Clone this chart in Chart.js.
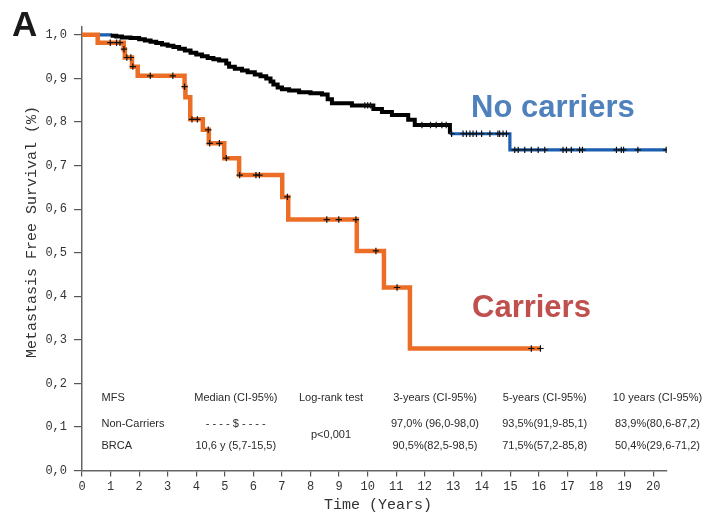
<!DOCTYPE html>
<html><head><meta charset="utf-8">
<script src="https://cdn.jsdelivr.net/npm/chart.js@4.4.1/dist/chart.umd.min.js"></script>
<style>html,body{margin:0;padding:0;background:#fff}canvas{display:block}</style>
</head><body>
<canvas id="c" width="706" height="513"></canvas>
<script>
// ---- tick labels ----
const yTickValues = [0, 0.1, 0.2, 0.3, 0.4, 0.5, 0.6, 0.7, 0.8, 0.9, 1.0];
const yTickLabels = ['0,0','0,1','0,2','0,3','0,4','0,5','0,6','0,7','0,8','0,9','1,0'];
const xTickValues = [0,1,2,3,4,5,6,7,8,9,10,11,12,13,14,15,16,17,18,19,20];
const xTickLabels = ['0','1','2','3','4','5','6','7','8','9','10','11','12','13','14','15','16','17','18','19','20'];

// ---- Carriers (BRCA) Kaplan-Meier steps ----
const carrierTimes    = [0, 0.55, 1.46, 1.50, 1.75, 1.95, 3.59, 3.62, 3.79, 4.23, 4.44, 4.98, 5.50, 7.01, 7.22, 9.62, 10.57, 11.48, 16.05];
const carrierSurvival = [1.0, 0.982, 0.967, 0.948, 0.927, 0.906, 0.881, 0.857, 0.806, 0.782, 0.751, 0.717, 0.678, 0.628, 0.576, 0.504, 0.420, 0.280, 0.280];
const carrierCensorTimes    = [0.99, 1.21, 1.33, 1.47, 1.57, 1.71, 1.78, 2.39, 3.18, 3.59, 3.85, 4.04, 4.42, 4.47, 4.81, 5.05, 5.52, 6.09, 6.21, 7.19, 8.57, 8.99, 9.59, 10.29, 11.03, 15.73, 16.05];
const carrierCensorSurvival = [0.982, 0.982, 0.982, 0.967, 0.948, 0.948, 0.927, 0.906, 0.906, 0.881, 0.806, 0.806, 0.782, 0.751, 0.751, 0.717, 0.678, 0.678, 0.678, 0.628, 0.576, 0.576, 0.576, 0.504, 0.420, 0.280, 0.280];

// ---- No carriers Kaplan-Meier steps ----
const nonCarrierTimes    = [0, 1.0, 1.2, 1.4, 1.7, 2.0, 2.2, 2.4, 2.6, 2.8, 3.0, 3.2, 3.4, 3.6, 3.8, 4.0, 4.2, 4.4, 4.6, 4.8, 5.05, 5.15, 5.35, 5.6, 5.8, 6.05, 6.25, 6.45, 6.6, 6.7, 6.85, 7.0, 7.25, 7.6, 8.0, 8.4, 8.6, 8.75, 9.45, 10.2, 10.5, 10.85, 11.42, 11.65, 12.88, 14.98, 20.45];
const nonCarrierSurvival = [1.0, 0.998, 0.996, 0.994, 0.993, 0.990, 0.987, 0.984, 0.981, 0.978, 0.975, 0.972, 0.968, 0.964, 0.959, 0.955, 0.951, 0.947, 0.944, 0.941, 0.934, 0.927, 0.922, 0.918, 0.914, 0.909, 0.905, 0.900, 0.893, 0.886, 0.879, 0.875, 0.872, 0.868, 0.866, 0.863, 0.852, 0.843, 0.838, 0.830, 0.823, 0.816, 0.805, 0.793, 0.773, 0.736, 0.736];
const nonCarrierCensorTimes    = [9.9, 10.0, 10.1, 11.9, 12.2, 12.4, 12.6, 12.75, 12.94, 13.34, 13.46, 13.58, 13.69, 13.81, 13.99, 14.28, 14.56, 14.62, 14.74, 14.86, 15.15, 15.27, 15.50, 15.73, 15.97, 16.20, 16.84, 16.96, 17.13, 17.42, 17.52, 18.71, 18.88, 18.96, 19.46, 20.45];
const nonCarrierCensorSurvival = [0.838, 0.838, 0.838, 0.793, 0.793, 0.793, 0.793, 0.793, 0.773, 0.773, 0.773, 0.773, 0.773, 0.773, 0.773, 0.773, 0.773, 0.773, 0.773, 0.773, 0.736, 0.736, 0.736, 0.736, 0.736, 0.736, 0.736, 0.736, 0.736, 0.736, 0.736, 0.736, 0.736, 0.736, 0.736, 0.736];
const nonCarrierBlackUntil = 12.88;

// ---- table text ----
const tableHeader   = ['MFS', 'Median (CI-95%)', 'Log-rank test', '3-years (CI-95%)', '5-years (CI-95%)', '10 years (CI-95%)'];
const nonCarrierRow = ['Non-Carriers', '- - - - $ - - - -', '', '97,0% (96,0-98,0)', '93,5%(91,9-85,1)', '83,9%(80,6-87,2)'];
const brcaRow       = ['BRCA', '10,6 y (5,7-15,5)', '', '90,5%(82,5-98,5)', '71,5%(57,2-85,8)', '50,4%(29,6-71,2)'];
const logRankText   = 'p<0,001';
const seriesLabels  = ['No carriers', 'Carriers'];
const panelLetter   = 'A';
const yTitle = 'Metastasis Free Survival (%)';
const xTitle = 'Time (Years)';

const zip = (xs, ys) => xs.map((x, i) => ({x, y: ys[i]}));
const BLUE = '#1c5eb0', ORANGE = '#ec6e26';

const textPlugin = {
  id: 'texts',
  afterDraw(chart) {
    const ctx = chart.ctx;
    ctx.save();
    // panel letter
    ctx.fillStyle = '#1a1a1a';
    ctx.font = 'bold 35px "Liberation Sans", Arial, sans-serif';
    ctx.textAlign = 'left'; ctx.textBaseline = 'alphabetic';
    ctx.fillText(panelLetter, 12, 36);
    // series labels
    ctx.font = 'bold 31px "Liberation Sans", Arial, sans-serif';
    ctx.fillStyle = '#4f81bd';
    ctx.fillText(seriesLabels[0], 471, 116.5);
    ctx.fillStyle = '#c0504d';
    ctx.fillText(seriesLabels[1], 472, 316.5);
    // axis titles
    ctx.fillStyle = '#333';
    ctx.font = '15px "Liberation Mono", monospace';
    ctx.textAlign = 'center'; ctx.textBaseline = 'middle';
    ctx.fillText(xTitle, 378, 505);
    ctx.save();
    ctx.translate(32, 232);
    ctx.rotate(-Math.PI / 2);
    ctx.fillText(yTitle, 0, 0);
    ctx.restore();
    // table
    ctx.font = '11px "Liberation Sans", Arial, sans-serif';
    ctx.fillStyle = '#2a2a2a';
    const colX = [101.5, 235.8, 331, 435, 544.7, 657.5];
    const rowY = [398, 424, 446];
    [tableHeader, nonCarrierRow, brcaRow].forEach((row, r) => {
      row.forEach((txt, c) => {
        if (!txt) return;
        ctx.textAlign = c === 0 ? 'left' : 'center';
        ctx.fillText(txt, colX[c], rowY[r]);
      });
    });
    ctx.textAlign = 'center';
    ctx.fillText(logRankText, 331, 435);
    ctx.restore();
  }
};

new Chart(document.getElementById('c'), {
  type: 'line',
  data: {
    datasets: [
      { label: 'Carriers censored', data: zip(carrierCensorTimes, carrierCensorSurvival), showLine: false,
        pointStyle: 'cross', pointRadius: 3.2, pointBorderColor: '#111', pointBorderWidth: 1.2, pointBackgroundColor: '#111' },
      { label: 'No carriers censored', data: zip(nonCarrierCensorTimes, nonCarrierCensorSurvival), showLine: false,
        pointStyle: 'cross', pointRadius: 3.2, pointBorderColor: '#111', pointBorderWidth: 1.2, pointBackgroundColor: '#111' },
      { label: 'Carriers', data: zip(carrierTimes, carrierSurvival), stepped: true, borderColor: ORANGE,
        borderWidth: 4.5, pointRadius: 0, fill: false, borderCapStyle: 'butt', borderJoinStyle: 'miter' },
      { label: 'No carriers', data: zip(nonCarrierTimes, nonCarrierSurvival), stepped: true, borderColor: BLUE,
        borderWidth: 3.5, pointRadius: 0, fill: false, borderJoinStyle: 'miter',
        segment: {
          borderColor: c => (c.p1.parsed.x <= nonCarrierBlackUntil && c.p0.parsed.x >= 0.9) ? '#000' : BLUE,
          borderWidth: c => (c.p1.parsed.x <= nonCarrierBlackUntil && c.p0.parsed.x >= 0.9) ? 4 : 3.2
        } }
    ]
  },
  options: {
    responsive: false,
    animation: false,
    devicePixelRatio: 1,
    layout: { padding: { left: 0, top: 27, right: 39, bottom: 0 } },
    plugins: { legend: { display: false }, tooltip: { enabled: false } },
    scales: {
      x: {
        type: 'linear', min: 0, max: 20.48,
        afterBuildTicks: s => { s.ticks = xTickValues.map(v => ({value: v})); },
        afterFit: s => { s.height = 42.5; },
        ticks: { callback: v => xTickLabels[xTickValues.indexOf(Math.round(v))], font: {family: '"Liberation Mono", monospace', size: 12},
                 color: '#333', padding: 3, maxRotation: 0, autoSkip: false },
        grid: { drawOnChartArea: false, tickLength: 6, color: '#555', lineWidth: 1.2 },
        border: { color: '#666', width: 1.5 }
      },
      y: {
        type: 'linear', min: 0, max: 1.018,
        afterBuildTicks: s => { s.ticks = yTickValues.map(v => ({value: v})); },
        afterFit: s => { s.width = 82; },
        ticks: { callback: v => yTickLabels[yTickValues.findIndex(t => Math.abs(t - v) < 1e-6)], font: {family: '"Liberation Mono", monospace', size: 12},
                 color: '#333', padding: 7, autoSkip: false },
        grid: { drawOnChartArea: false, tickLength: 8, color: '#555', lineWidth: 1.2 },
        border: { color: '#666', width: 1.5 }
      }
    }
  },
  plugins: [textPlugin]
});
</script></body></html>
